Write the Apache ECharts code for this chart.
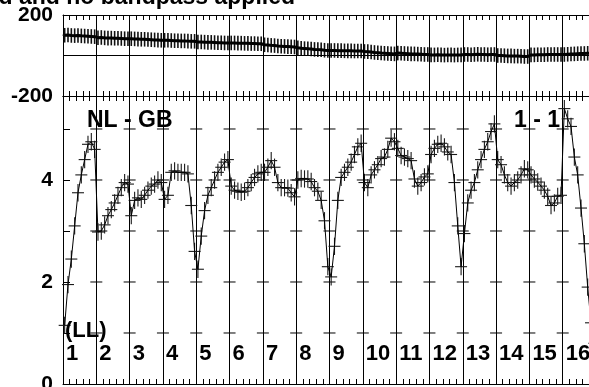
<!DOCTYPE html>
<html><head><meta charset="utf-8">
<script src="https://cdn.jsdelivr.net/npm/echarts@6/dist/echarts.min.js"></script>
<style>html,body{margin:0;padding:0;background:#fff}#c{width:589px;height:387px}</style>
</head><body><div id="c"></div>
<script>
// ---- data ----
const ifLabels = ['1','2','3','4','5','6','7','8','9','10','11','12','13','14','15','16'];
const phaseTickValues = [-200, 200];
const ampTickLabelValues = [0, 2, 4];
const phaseErr = 36;
const ampErr = 0.17;

const phaseIF01 = [100, 101, 99, 98, 99, 97, 96, 95, 94, 93];
const phaseIF02 = [88, 89, 87, 86, 86, 85, 85, 84, 83, 83];
const phaseIF03 = [83, 82, 81, 80, 80, 79, 78, 77, 76, 75];
const phaseIF04 = [75, 75, 74, 73, 73, 72, 72, 71, 70, 70];
const phaseIF05 = [67, 67, 66, 65, 65, 64, 63, 63, 62, 62];
const phaseIF06 = [62, 62, 61, 61, 60, 60, 59, 59, 58, 58];
const phaseIF07 = [53, 52, 50, 49, 47, 46, 45, 44, 43, 42];
const phaseIF08 = [38, 36, 34, 33, 32, 30, 29, 28, 26, 25];
const phaseIF09 = [25, 25, 24, 24, 23, 23, 23, 22, 22, 22];
const phaseIF10 = [20, 19, 17, 15, 14, 12, 11, 10, 9, 8];
const phaseIF11 = [12, 11, 10, 9, 8, 8, 7, 6, 5, 5];
const phaseIF12 = [3, 3, 4, 3, 2, 3, 3, 2, 3, 3];
const phaseIF13 = [5, 5, 4, 5, 6, 5, 5, 4, 5, 5];
const phaseIF14 = [0, 0, -1, -2, -2, -3, -3, -4, -5, -5];
const phaseIF15 = [3, 3, 4, 4, 4, 5, 5, 5, 5, 5];
const phaseIF16 = [5, 6, 7, 8, 9, 10, 10, 11, 12, 12];

const ampIF01 = [1.15, 1.95, 2.45, 3.1, 3.75, 4.1, 4.4, 4.7, 4.75, 4.6];
const ampIF02 = [2.98, 3.0, 3.12, 3.3, 3.42, 3.55, 3.7, 3.85, 3.95, 3.92];
const ampIF03 = [3.3, 3.6, 3.65, 3.62, 3.7, 3.8, 3.88, 3.92, 4.0, 3.95];
const ampIF04 = [3.62, 3.7, 4.15, 4.18, 4.15, 4.15, 4.15, 4.12, 3.5, 2.6];
const ampIF05 = [2.25, 2.9, 3.4, 3.7, 3.85, 4.0, 4.15, 4.25, 4.35, 4.4];
const ampIF06 = [3.88, 3.8, 3.78, 3.76, 3.78, 3.85, 3.95, 4.05, 4.12, 4.15];
const ampIF07 = [4.15, 4.25, 4.38, 4.25, 3.95, 3.85, 3.85, 3.84, 3.75, 3.67];
const ampIF08 = [4.0, 4.03, 4.02, 4.02, 3.97, 3.85, 3.78, 3.6, 3.2, 2.3];
const ampIF09 = [2.1, 2.7, 3.6, 4.05, 4.15, 4.25, 4.35, 4.5, 4.65, 4.72];
const ampIF10 = [3.95, 3.85, 4.1, 4.2, 4.3, 4.42, 4.45, 4.6, 4.82, 4.75];
const ampIF11 = [4.62, 4.48, 4.45, 4.42, 4.38, 4.02, 3.88, 3.95, 4.06, 4.12];
const ampIF12 = [4.5, 4.62, 4.7, 4.72, 4.65, 4.55, 4.5, 3.95, 3.1, 2.3];
const ampIF13 = [2.95, 3.55, 3.8, 3.95, 4.2, 4.4, 4.6, 4.75, 4.95, 5.1];
const ampIF14 = [4.4, 4.3, 4.1, 3.95, 3.88, 3.95, 4.0, 4.1, 4.22, 4.2];
const ampIF15 = [4.1, 4.02, 3.96, 3.88, 3.8, 3.68, 3.5, 3.55, 3.68, 3.7];
const ampIF16 = [5.4, 5.2, 5.05, 4.45, 4.1, 3.45, 2.75, 1.9, 1.2, 0.8];

// ---- build ----
const phaseIFs = [phaseIF01,phaseIF02,phaseIF03,phaseIF04,phaseIF05,phaseIF06,phaseIF07,phaseIF08,
  phaseIF09,phaseIF10,phaseIF11,phaseIF12,phaseIF13,phaseIF14,phaseIF15,phaseIF16];
const ampIFs = [ampIF01,ampIF02,ampIF03,ampIF04,ampIF05,ampIF06,ampIF07,ampIF08,
  ampIF09,ampIF10,ampIF11,ampIF12,ampIF13,ampIF14,ampIF15,ampIF16];

function toXY(groups) {
  const out = [];
  groups.forEach((arr, i) => arr.forEach((v, j) => out.push([i + (j + 0.5) / arr.length, v])));
  return out;
}
const phaseData = toXY(phaseIFs);
const ampData = toXY(ampIFs);
const boundaryTicks = [];
for (let b = 1; b < ifLabels.length; b++) for (let v = 1; v <= 5; v++) boundaryTicks.push([b, v]);
const ifLabelData = ifLabels.map((l, i) => [i, 0]);

const FONT = '"Liberation Sans", Arial, Helvetica, sans-serif';
const black = '#000';

function xAx(grid, pos, split) {
  return {
    type: 'value', gridIndex: grid, position: pos, min: 0, max: 16, interval: 1,
    axisLine: { show: true, onZero: false, lineStyle: { color: black, width: 1 } },
    axisTick: { show: true, inside: true, length: 5, lineStyle: { color: black, width: 1 } },
    minorTick: { show: true, splitNumber: 5, length: 5, lineStyle: { color: black, width: 1 } },
    axisLabel: { show: false },
    splitLine: { show: split, lineStyle: { color: black, width: 1 } },
    minorSplitLine: { show: false }
  };
}

const chart = echarts.init(document.getElementById('c'), null, { renderer: 'canvas' });
chart.setOption({
  animation: false,
  backgroundColor: '#fff',
  grid: [
    { left: 63, top: 15, width: 533, height: 81, outerBoundsMode: 'none', containLabel: false },
    { left: 63, top: 96, width: 533, height: 288, outerBoundsMode: 'none', containLabel: false }
  ],
  xAxis: [xAx(0, 'top', true), xAx(0, 'bottom', false), xAx(1, 'top', false), xAx(1, 'bottom', true)],
  yAxis: [
    {
      type: 'value', gridIndex: 0, min: phaseTickValues[0], max: phaseTickValues[1], interval: 400,
      axisLine: { show: true, lineStyle: { color: black, width: 1 } },
      axisTick: { show: false },
      axisLabel: { show: true, color: black, fontFamily: FONT, fontWeight: 'bold', fontSize: 21, margin: 10 },
      splitLine: { show: false }
    },
    {
      type: 'value', gridIndex: 1, min: 0, max: 5.647, interval: 1,
      axisLine: { show: true, lineStyle: { color: black, width: 1 } },
      axisTick: { show: true, inside: true, length: 7, lineStyle: { color: black, width: 1 } },
      axisLabel: {
        show: true, color: black, fontFamily: FONT, fontWeight: 'bold', fontSize: 21, margin: 10,
        showMaxLabel: false,
        formatter: v => (ampTickLabelValues.indexOf(v) >= 0 ? String(v) : '')
      },
      splitLine: { show: false }
    }
  ],
  series: [
    {
      type: 'line', xAxisIndex: 0, yAxisIndex: 0, data: phaseData, symbol: 'none',
      lineStyle: { color: black, width: 3 }, z: 4, silent: true,
      markLine: {
        silent: true, symbol: 'none', label: { show: false },
        lineStyle: { color: black, width: 1, type: 'solid' },
        data: [{ yAxis: 0 }]
      }
    },
    {
      type: 'custom', xAxisIndex: 0, yAxisIndex: 0, data: phaseData, z: 3, silent: true,
      renderItem: (params, api) => {
        const x = api.value(0), y = api.value(1);
        const top = api.coord([x, y + phaseErr]), bot = api.coord([x, y - phaseErr]);
        const c = api.coord([x, y]);
        const st = { stroke: '#111', lineWidth: 1.6 };
        return { type: 'group', children: [
          { type: 'line', shape: { x1: top[0], y1: top[1], x2: bot[0], y2: bot[1] }, style: st },
          { type: 'line', shape: { x1: c[0] - 2, y1: c[1], x2: c[0] + 2, y2: c[1] }, style: st }
        ] };
      }
    },
    {
      type: 'line', xAxisIndex: 3, yAxisIndex: 1, data: ampData, symbol: 'none',
      lineStyle: { color: black, width: 1 }, z: 4, silent: true
    },
    {
      type: 'custom', xAxisIndex: 3, yAxisIndex: 1, data: ampData, z: 3, silent: true,
      renderItem: (params, api) => {
        const x = api.value(0), y = api.value(1);
        const top = api.coord([x, y + ampErr]), bot = api.coord([x, y - ampErr]);
        const c = api.coord([x, y]);
        const st = { stroke: '#1a1a1a', lineWidth: 1.1 };
        return { type: 'group', children: [
          { type: 'line', shape: { x1: top[0], y1: top[1], x2: bot[0], y2: bot[1] }, style: st },
          { type: 'line', shape: { x1: c[0] - 6, y1: c[1], x2: c[0] + 6, y2: c[1] }, style: st }
        ] };
      }
    },
    {
      type: 'custom', xAxisIndex: 3, yAxisIndex: 1, data: boundaryTicks, z: 2, silent: true,
      renderItem: (params, api) => {
        const c = api.coord([api.value(0), api.value(1)]);
        return { type: 'line', shape: { x1: c[0] - 6, y1: c[1], x2: c[0] + 6, y2: c[1] },
          style: { stroke: black, lineWidth: 1 } };
      }
    },
    {
      type: 'custom', xAxisIndex: 3, yAxisIndex: 1, data: ifLabelData, z: 5, silent: true, clip: false,
      renderItem: (params, api) => {
        const c = api.coord([api.value(0), api.value(1)]);
        return { type: 'text', x: c[0] + 3, y: c[1] - 30,
          style: { text: ifLabels[params.dataIndex], fill: black, font: 'bold 22px ' + FONT,
            textAlign: 'left', textVerticalAlign: 'middle' } };
      }
    }
  ],
  graphic: [
    { type: 'text', x: 295, y: -2, style: { text: 'd and no bandpass applied', fill: black,
        font: 'bold 23px ' + FONT, textAlign: 'right', textVerticalAlign: 'middle' } },
    { type: 'text', x: 87, y: 121, z: 10, style: { text: 'NL - GB', fill: black,
        font: 'bold 23px ' + FONT, textAlign: 'left', textVerticalAlign: 'middle' } },
    { type: 'text', x: 514, y: 121, z: 10, style: { text: '1 - 1', fill: black,
        font: 'bold 23px ' + FONT, textAlign: 'left', textVerticalAlign: 'middle' } },
    { type: 'text', x: 65, y: 331, z: 10, style: { text: '(LL)', fill: black,
        font: 'bold 22px ' + FONT, textAlign: 'left', textVerticalAlign: 'middle' } }
  ]
});
</script></body></html>
